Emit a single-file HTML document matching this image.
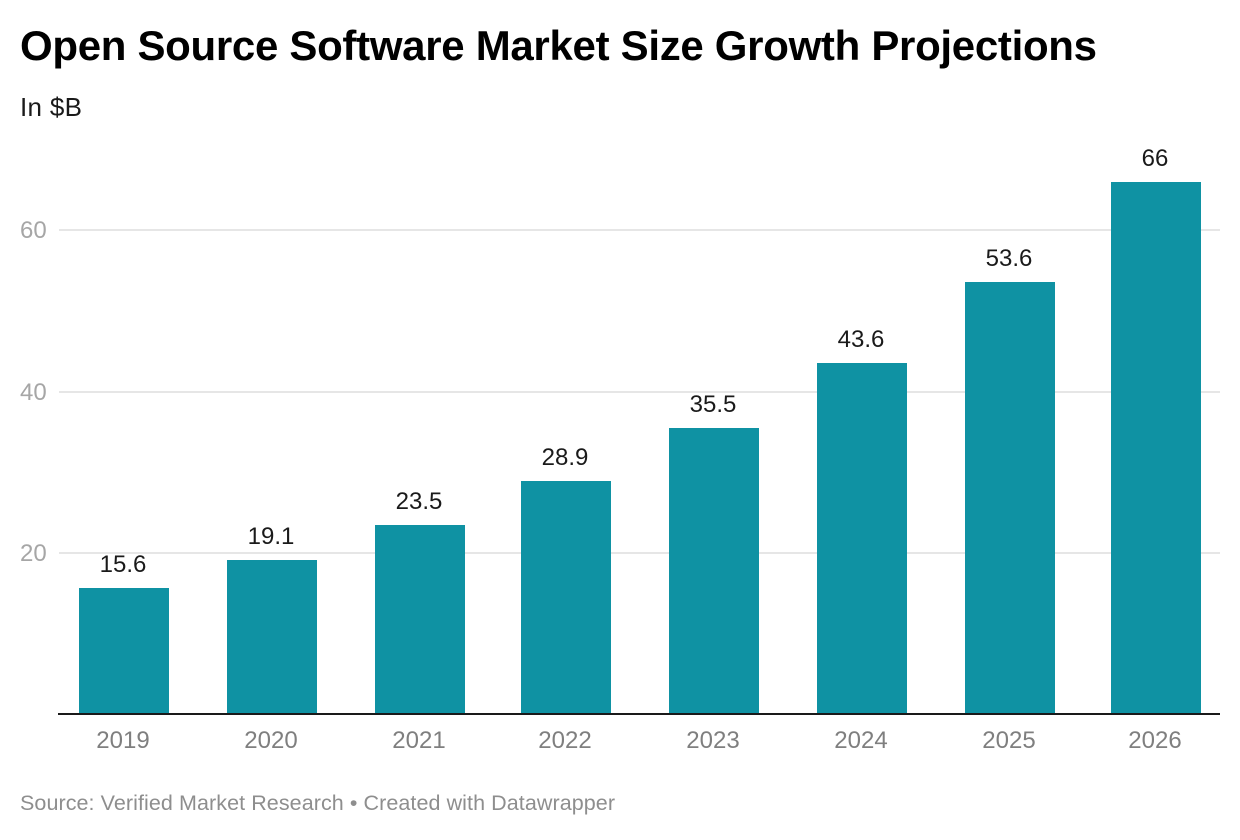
<!DOCTYPE html>
<html lang="en">
<head>
<meta charset="utf-8">
<title>Open Source Software Market Size Growth Projections</title>
<style>
html,body{margin:0;padding:0;background:#fff;width:1240px;height:840px;overflow:hidden}
svg{display:block;font-family:"Liberation Sans",Arial,sans-serif}
</style>
</head>
<body>
<svg id="chart" width="1240" height="840" viewBox="0 0 1240 840" xmlns="http://www.w3.org/2000/svg">
  <text x="20" y="60" font-size="42" font-weight="700" fill="#000" textLength="1077">Open Source Software Market Size Growth Projections</text>
  <text x="20" y="116" font-size="26" fill="#1a1a1a" textLength="62">In $B</text>
  <g id="grid"></g>
  <g id="yticks"></g>
  <g id="bars"></g>
  <g id="values"></g>
  <rect x="58" y="713" width="1162" height="2" fill="#1a1a1a"></rect>
  <g id="xticks"></g>
  <text x="20" y="810" font-size="21.5" fill="#8e8e8e" textLength="595">Source: Verified Market Research • Created with Datawrapper</text>
</svg>
<script>
const categories = ['2019', '2020', '2021', '2022', '2023', '2024', '2025', '2026'];
const values = [15.6, 19.1, 23.5, 28.9, 35.5, 43.6, 53.6, 66];
const yTicks = [20, 40, 60];

const NS = 'http://www.w3.org/2000/svg';
const BASE_Y = 714;
const PX_PER_UNIT = 8.06;
const BAR_W = 90;
function yScale(v) { return BASE_Y - v * PX_PER_UNIT; }
function xLeft(i) { return 2 * Math.floor(39.8 + 73.71 * i) + 1; }
function make(tag, attrs, parent) {
  const el = document.createElementNS(NS, tag);
  Object.keys(attrs).forEach(function (k) { el.setAttribute(k, attrs[k]); });
  parent.appendChild(el);
  return el;
}

yTicks.forEach(function (t) {
  const y = Math.round(yScale(t));
  const line = make('rect', { x: 59, y: y - 1, width: 1161, height: 2, fill: '#e6e6e6' }, document.getElementById('grid'));
  
  
  const label = make('text', { x: 20, y: y + 8, 'font-size': 24, fill: '#a6a6a6' }, document.getElementById('yticks'));
  
  
  label.textContent = String(t);
});

values.forEach(function (v, i) {
  const x = xLeft(i);
  const y = Math.round(yScale(v));
  const bar = make('rect', { x: x, y: y, width: BAR_W, height: BASE_Y - y, fill: '#0f92a3' }, document.getElementById('bars'));
  
  
  const val = make('text', { x: x + BAR_W / 2 - 1, y: y - 16, 'font-size': 24, fill: '#1a1a1a', 'text-anchor': 'middle' }, document.getElementById('values'));
  
  
  val.textContent = String(v);
  const cat = make('text', { x: x + BAR_W / 2 - 1, y: 748, 'font-size': 24, fill: '#7f7f7f', 'text-anchor': 'middle' }, document.getElementById('xticks'));
  
  
  cat.textContent = categories[i];
});
</script>
</body>
</html>
